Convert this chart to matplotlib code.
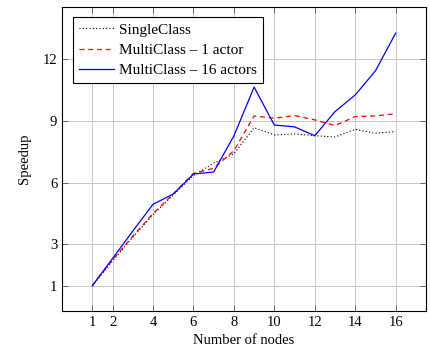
import matplotlib
matplotlib.use("Agg")
import matplotlib.pyplot as plt

plt.rcParams['font.family'] = ['Liberation Serif', 'DejaVu Serif']
plt.rcParams['mathtext.fontset'] = 'stix'

nodes = [1, 2, 3, 4, 5, 6, 7, 8, 9, 10, 11, 12, 13, 14, 15, 16]
single_class = [1.0, 2.2, 3.35, 4.45, 5.4, 6.35, 6.95, 7.4, 8.67, 8.32, 8.37, 8.28, 8.22, 8.59, 8.40, 8.48]
multi_1 = [1.0, 2.25, 3.4, 4.5, 5.45, 6.45, 6.7, 7.55, 9.24, 9.13, 9.26, 9.05, 8.77, 9.21, 9.24, 9.35]
multi_16 = [1.0, 2.32, 3.65, 4.95, 5.45, 6.42, 6.52, 8.27, 10.64, 8.80, 8.71, 8.28, 9.45, 10.26, 11.43, 13.26]

xticks = [1, 2, 4, 6, 8, 10, 12, 14, 16]
yticks = [1, 3, 6, 9, 12]

fig = plt.figure(figsize=(4.30, 3.49), dpi=100)
ax = fig.add_axes([62 / 430, 1 - 311 / 349, (426 - 62) / 430, (311 - 7) / 349])

ax.plot(nodes, single_class, color='black', ls=(0, (1, 2)), lw=0.8, label='SingleClass')
ax.plot(nodes, multi_1, color='red', ls=(0, (4, 3)), lw=0.9, label='MultiClass – 1 actor')
ax.plot(nodes, multi_16, color='blue', ls='-', lw=0.9, label='MultiClass – 16 actors')

ax.set_xlim(-0.5, 17.5)
ax.set_ylim(-0.23, 14.53)
ax.set_xticks(xticks)
ax.set_yticks(yticks)
ax.grid(True, color='#c8c8c8', lw=0.7)
ax.set_axisbelow(True)
ax.tick_params(direction='in', top=True, right=True, length=4, width=0.6,
               color='#555555', labelsize=10.5)
for s in ax.spines.values():
    s.set_linewidth(0.8)

ax.set_xlabel('Number of nodes', fontsize=10.5, labelpad=4)
ax.set_ylabel('Speedup', fontsize=10.5, labelpad=8)

leg = ax.legend(loc='upper left', bbox_to_anchor=(0.03, 0.967), borderaxespad=0,
                fontsize=11, frameon=True, fancybox=False, edgecolor='black',
                framealpha=1, handlelength=2.3, borderpad=0.4, labelspacing=0.42,
                handletextpad=0.3)
leg.get_frame().set_linewidth(0.8)

fig.savefig('out.png', dpi=100)
